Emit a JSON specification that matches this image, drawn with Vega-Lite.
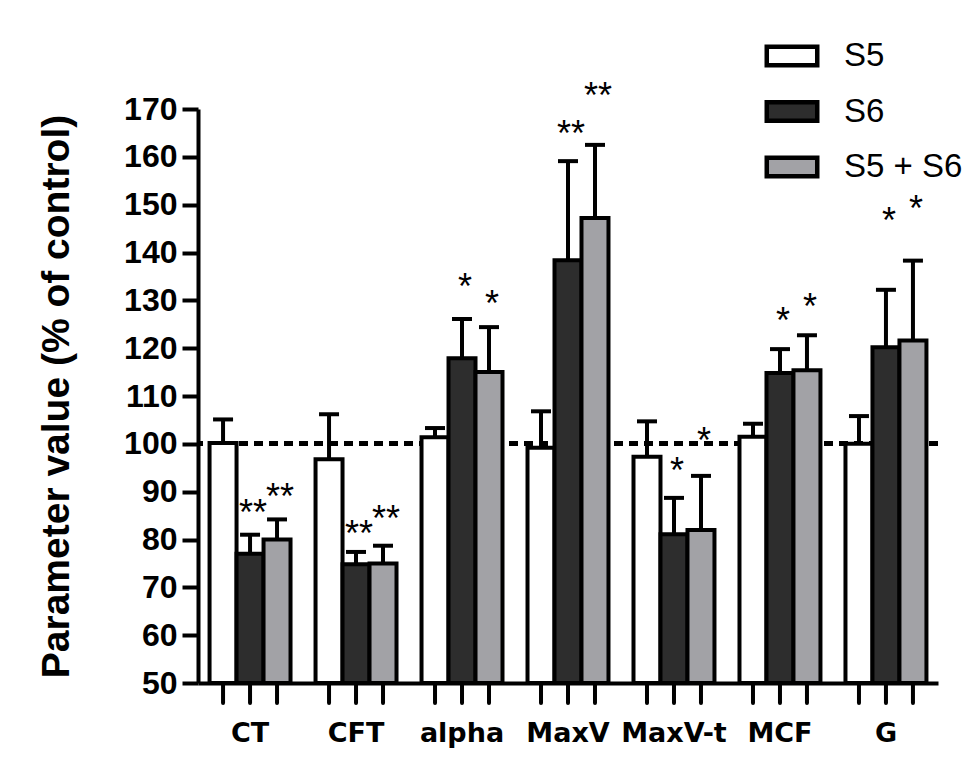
{
  "$schema": "https://vega.github.io/schema/vega-lite/v6.json",
  "autosize": {"type": "none"},
  "width": 740,
  "height": 574,
  "padding": {"left": 198, "top": 109, "right": 28, "bottom": 83},
  "background": "white",
  "config": {
    "view": {"stroke": null},
    "font": "Liberation Sans"
  },
  "data": {
    "values": [
      {"param": "CT", "series": "S5", "value": 100.2, "upper": 105.1, "star": "", "starY": null},
      {"param": "CT", "series": "S6", "value": 77.0, "upper": 81.0, "star": "**", "starY": 87.4},
      {"param": "CT", "series": "S5 + S6", "value": 80.0, "upper": 84.2, "star": "**", "starY": 90.8},
      {"param": "CFT", "series": "S5", "value": 96.8, "upper": 106.2, "star": "", "starY": null},
      {"param": "CFT", "series": "S6", "value": 74.8, "upper": 77.4, "star": "**", "starY": 83.0},
      {"param": "CFT", "series": "S5 + S6", "value": 75.0, "upper": 78.7, "star": "**", "starY": 86.2},
      {"param": "alpha", "series": "S5", "value": 101.4, "upper": 103.3, "star": "", "starY": null},
      {"param": "alpha", "series": "S6", "value": 117.9, "upper": 126.1, "star": "*", "starY": 134.7},
      {"param": "alpha", "series": "S5 + S6", "value": 115.0, "upper": 124.4, "star": "*", "starY": 131.1},
      {"param": "MaxV", "series": "S5", "value": 99.2, "upper": 106.8, "star": "", "starY": null},
      {"param": "MaxV", "series": "S6", "value": 138.4, "upper": 159.1, "star": "**", "starY": 166.7},
      {"param": "MaxV", "series": "S5 + S6", "value": 147.2, "upper": 162.5, "star": "**", "starY": 174.5},
      {"param": "MaxV-t", "series": "S5", "value": 97.3, "upper": 104.7, "star": "", "starY": null},
      {"param": "MaxV-t", "series": "S6", "value": 81.1, "upper": 88.7, "star": "*", "starY": 96.2},
      {"param": "MaxV-t", "series": "S5 + S6", "value": 82.0, "upper": 93.3, "star": "*", "starY": 102.5},
      {"param": "MCF", "series": "S5", "value": 101.5, "upper": 104.2, "star": "", "starY": null},
      {"param": "MCF", "series": "S6", "value": 114.8, "upper": 119.8, "star": "*", "starY": 127.6},
      {"param": "MCF", "series": "S5 + S6", "value": 115.4, "upper": 122.7, "star": "*", "starY": 130.5},
      {"param": "G", "series": "S5", "value": 100.0, "upper": 105.8, "star": "", "starY": null},
      {"param": "G", "series": "S6", "value": 120.2, "upper": 132.2, "star": "*", "starY": 148.5},
      {"param": "G", "series": "S5 + S6", "value": 121.6, "upper": 138.3, "star": "*", "starY": 151.0}
    ]
  },
  "encoding": {
    "x": {
      "field": "param",
      "type": "nominal",
      "sort": ["CT", "CFT", "alpha", "MaxV", "MaxV-t", "MCF", "G"],
      "scale": {"paddingInner": 0.236, "paddingOuter": 0.109},
      "axis": {
        "title": null,
        "labelAngle": 0,
        "ticks": false,
        "domainWidth": 4,
        "domainColor": "black",
        "labelFont": "DejaVu Sans",
        "labelFontWeight": "bold",
        "labelFontSize": 27,
        "labelColor": "black",
        "labelPadding": 37
      }
    },
    "xOffset": {
      "field": "series",
      "type": "nominal",
      "sort": ["S5", "S6", "S5 + S6"],
      "scale": {"paddingInner": 0, "paddingOuter": 0}
    }
  },
  "layer": [
    {
      "mark": {"type": "rule", "strokeDash": [9, 6], "strokeWidth": 4, "color": "black"},
      "encoding": {
        "x": null,
        "xOffset": null,
        "y": {"datum": 100, "type": "quantitative", "scale": {"domain": [50, 170]}}
      }
    },
    {
      "mark": {"type": "rule", "strokeWidth": 4, "color": "black"},
      "encoding": {
        "y": {"field": "value", "type": "quantitative"},
        "y2": {"field": "upper"}
      }
    },
    {
      "mark": {"type": "tick", "thickness": 4, "size": 20, "color": "black", "opacity": 1},
      "encoding": {
        "y": {"field": "upper", "type": "quantitative"}
      }
    },
    {
      "mark": {"type": "bar", "stroke": "black", "strokeWidth": 4, "strokeJoin": "miter"},
      "encoding": {
        "y": {
          "field": "value",
          "type": "quantitative",
          "scale": {"domain": [50, 170], "nice": false, "zero": false},
          "axis": {
            "title": "Parameter value (% of control)",
            "titleFont": "Liberation Sans",
            "titleFontWeight": "bold",
            "titleFontSize": 39,
            "titleColor": "black",
            "titlePadding": 47,
            "values": [50, 55, 60, 65, 70, 75, 80, 85, 90, 95, 100, 105, 110, 115, 120, 125, 130, 135, 140, 145, 150, 155, 160, 165, 170],
            "labelExpr": "datum.value % 10 === 0 ? datum.label : ''",
            "labelOverlap": false,
            "labelFont": "Liberation Sans",
            "labelFontWeight": "bold",
            "labelFontSize": 32,
            "labelColor": "black",
            "labelPadding": 5,
            "tickSize": {"condition": {"test": "datum.value % 10 === 0", "value": 16}, "value": 9},
            "tickWidth": 4,
            "tickColor": "black",
            "domainWidth": 4,
            "domainColor": "black",
            "grid": false
          }
        },
        "y2": {"datum": 50},
        "fill": {
          "field": "series",
          "type": "nominal",
          "sort": ["S5", "S6", "S5 + S6"],
          "scale": {"domain": ["S5", "S6", "S5 + S6"], "range": ["#ffffff", "#2d2d2d", "#a2a2a6"]},
          "legend": {
            "title": null,
            "orient": "none",
            "legendX": 564,
            "legendY": -83,
            "padding": 0,
            "rowPadding": 6.5,
            "symbolType": "M-0.918,-0.336L0.918,-0.336L0.918,0.336L-0.918,0.336Z",
            "symbolSize": 3025,
            "symbolStrokeColor": "black",
            "symbolStrokeWidth": 4.5,
            "symbolOpacity": 1,
            "labelFont": "Liberation Sans",
            "labelFontSize": 33,
            "labelColor": "black",
            "labelOffset": 22,
            "labelLimit": 300
          }
        }
      }
    },
    {
      "mark": {"type": "rule", "strokeWidth": 4, "color": "black", "strokeCap": "round"},
      "encoding": {
        "y": {"datum": 50, "type": "quantitative"},
        "y2": {"datum": 45.8}
      }
    },
    {
      "transform": [{"filter": "datum.star !== ''"}],
      "mark": {"type": "text", "font": "Liberation Sans", "fontSize": 36, "color": "black", "baseline": "alphabetic", "dy": 21, "dx": 3},
      "encoding": {
        "y": {"field": "starY", "type": "quantitative"},
        "text": {"field": "star"}
      }
    }
  ]
}
